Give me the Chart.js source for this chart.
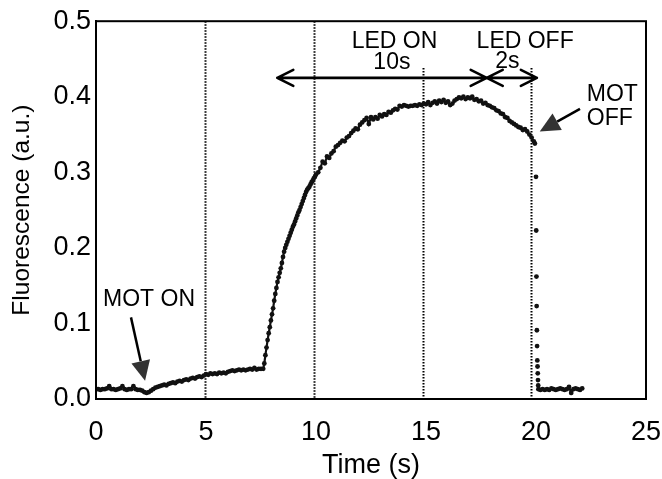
<!DOCTYPE html>
<html>
<head>
<meta charset="utf-8">
<script src="https://cdn.jsdelivr.net/npm/chart.js@4.4.0/dist/chart.umd.min.js"></script>
<style>
html,body{margin:0;padding:0;background:#fff;}
#wrap{width:662px;height:479px;}
</style>
</head>
<body>
<div id="wrap"><canvas id="c" width="662" height="479"></canvas></div>
<script>
// ---- data ----
const baselineTimes = [0,0.1,0.2,0.3,0.4,0.5,0.6,0.7,0.8,0.9,1,1.1,1.2,1.3,1.4,1.5,1.6,1.7,1.8,1.9,2,2.1,2.2,2.3,2.4,2.5,2.6,2.7,2.8,2.9,3,3.1,3.2,3.3,3.4,3.5,3.6,3.7,3.8,3.9,4,4.1,4.2,4.3,4.4,4.5,4.6,4.7,4.8,4.9,5,5.1,5.2,5.3,5.4,5.5,5.6,5.7,5.8,5.9,6,6.1,6.2,6.3,6.4,6.5,6.6,6.7,6.8,6.9,7,7.1,7.2,7.3,7.4,7.5,7.6];
const baselineValues = [.013,.013,.012,.013,.013,.014,.017,.013,.013,.012,
  .013,.014,.017,.013,.012,.013,.013,.017,.013,.012,
  .012,.011,.009,.008,.009,.011,.013,.015,.016,.017,
  .018,.019,.018,.020,.021,.022,.021,.023,.024,.023,
  .025,.026,.025,.027,.028,.027,.029,.030,.029,.031,
  .033,.032,.034,.033,.034,.033,.035,.034,.035,.034,
  .036,.037,.038,.037,.038,.039,.038,.039,.038,.039,
  .040,.039,.041,.039,.040,.040,.040];

const riseTimes = [7.65,7.7,7.75,7.8,7.85,7.9,7.95,8,8.05,8.1,8.15,8.2,8.25,8.3,8.35,8.4,8.45,8.5,8.55,8.6,8.65,8.7,8.75,8.8,8.85,8.9,8.95,9,9.05,9.1,9.15,9.2,9.25,9.3,9.35,9.4,9.45,9.5,9.55,9.6,9.65,9.7,9.75,9.8,9.85,9.9,9.95,10];
const riseValues = [.047,.058,.068,.078,.087,.095,.104,.112,.120,.130,.139,.147,.155,.161,.167,.173,.180,.188,.195,.200,.204,.208,.212,.216,.220,.224,.228,.231,.235,.239,.243,.247,.250,.254,.258,.262,.266,.270,.274,.277,.279,.281,.284,.287,.289,.292,.294,.297];

const plateauTimes = [10.1,10.2,10.3,10.4,10.5,10.6,10.7,10.8,10.9,11,
  11.1,11.2,11.3,11.4,11.5,11.6,11.7,11.8,11.9,12,
  12.1,12.2,12.3,12.4,12.5,12.6,12.7,12.8,12.9,13,
  13.1,13.2,13.3,13.4,13.5,13.6,13.7,13.8,13.9,14,
  14.1,14.2,14.3,14.4,14.5,14.6,14.7,14.8,14.9,15,
  15.1,15.2,15.3,15.4,15.5,15.6,15.7,15.8,15.9,16,
  16.1,16.2,16.3,16.4,16.5,16.6,16.7,16.8,16.9,17,
  17.1,17.2,17.3,17.4,17.5,17.6,17.7,17.8,17.9,18,
  18.1,18.2,18.3,18.4,18.5,18.6,18.7,18.8,18.9,19,
  19.1,19.2,19.3,19.4,19.5,19.6,19.7,19.8,19.9,19.95];
const plateauValues = [.300,.306,.314,.312,.321,.319,.325,.328,.334,.336,
  .339,.342,.341,.346,.348,.352,.355,.358,.357,.363,
  .366,.369,.372,.364,.373,.370,.373,.371,.376,.374,
  .377,.376,.380,.379,.382,.384,.383,.388,.387,.389,
  .388,.387,.388,.388,.389,.388,.390,.389,.391,.390,
  .393,.389,.392,.394,.391,.395,.393,.396,.392,.394,
  .389,.391,.395,.397,.399,.398,.400,.397,.399,.398,
  .400,.396,.397,.394,.395,.391,.392,.389,.388,.386,
  .385,.382,.381,.378,.377,.373,.372,.368,.366,.364,
  .362,.360,.359,.356,.357,.354,.350,.346,.341,.338];

const dropTimes = [20,20.01,20.02,20.03,20.04,20.05,20.06,20.07,20.08,20.09,20.1,20.11];
const dropValues = [.294,.223,.162,.123,.091,.070,.051,.043,.034,.025,.018,.013];

const tailTimes = [20.2,20.3,20.4,20.5,20.6,20.7,20.8,20.9,21,21.1,21.2,21.3,21.4,21.5,21.6,21.7,21.8,21.9,22,22.1];
const tailValues = [.012,.013,.012,.013,.012,.014,.013,.012,.013,.014,.013,.012,.013,.016,.008,.013,.014,.013,.012,.014];

const xTickValues = [0,5,10,15,20,25];
const yTickValues = [0,0.1,0.2,0.3,0.4,0.5];
const markerTimes = [4.96, 9.93, 14.85, 19.76];
const markerTops  = [0.5, 0.5, 0.438, 0.438];

// ---- build points ----
const allTimes = [].concat(baselineTimes, riseTimes, plateauTimes, dropTimes, tailTimes);
const allValues = [].concat(baselineValues, riseValues, plateauValues, dropValues, tailValues);
const points = allTimes.map((t, i) => ({x: t, y: allValues[i]}));
const dropStart = dropTimes[0], dropEnd = dropTimes[dropTimes.length - 1];

const FONT = '"Liberation Sans", Arial, sans-serif';

const annotations = {
  id: 'annotations',
  beforeDatasetsDraw(chart) {
    const {ctx, scales: {x, y}, chartArea: a} = chart;
    ctx.save();
    ctx.strokeStyle = '#000';
    ctx.lineWidth = 2;
    ctx.setLineDash([1.5, 1.5]);
    markerTimes.forEach((t, i) => {
      const px = Math.round(x.getPixelForValue(t)) + 0.5;
      ctx.beginPath();
      ctx.moveTo(px, y.getPixelForValue(markerTops[i]));
      ctx.lineTo(px, a.bottom);
      ctx.stroke();
    });
    ctx.restore();
  },
  afterDraw(chart) {
    const {ctx, scales: {x, y}, chartArea: a} = chart;
    const X = v => x.getPixelForValue(v), Y = v => y.getPixelForValue(v);
    ctx.save();
    // frame
    ctx.strokeStyle = '#000';
    ctx.lineWidth = 2;
    ctx.strokeRect(a.left, a.top, a.right - a.left, a.bottom - a.top);

    // double arrows
    function dbl(x1, x2, yy) {
      const p1 = X(x1), p2 = X(x2), py = Y(yy);
      ctx.lineWidth = 2.6;
      ctx.lineCap = 'round';
      ctx.lineJoin = 'round';
      ctx.beginPath();
      ctx.moveTo(p1, py); ctx.lineTo(p2, py);
      ctx.moveTo(p1 + 16, py - 8); ctx.lineTo(p1, py); ctx.lineTo(p1 + 16, py + 8);
      ctx.moveTo(p2 - 16, py - 8); ctx.lineTo(p2, py); ctx.lineTo(p2 - 16, py + 8);
      ctx.stroke();
    }
    dbl(8.24, 17.76, 0.425);
    dbl(17.76, 20.04, 0.425);

    // filled arrows
    function filled(x0, y0, x1, y1) {
      const a0 = X(x0), b0 = Y(y0), a1 = X(x1), b1 = Y(y1);
      const ang = Math.atan2(b1 - b0, a1 - a0);
      const L = 20, W = 9.5;
      const bx = a1 - L * Math.cos(ang), by = b1 - L * Math.sin(ang);
      ctx.lineWidth = 2.5;
      ctx.lineCap = 'butt';
      ctx.strokeStyle = '#000';
      ctx.beginPath(); ctx.moveTo(a0, b0); ctx.lineTo(bx, by); ctx.stroke();
      ctx.fillStyle = '#333';
      ctx.beginPath();
      ctx.moveTo(a1, b1);
      ctx.lineTo(bx + W * Math.sin(ang), by - W * Math.cos(ang));
      ctx.lineTo(bx - W * Math.sin(ang), by + W * Math.cos(ang));
      ctx.closePath(); ctx.fill();
    }
    filled(1.59, 0.108, 2.23, 0.024);
    filled(22.0, 0.384, 20.17, 0.354);

    // labels
    ctx.fillStyle = '#000';
    ctx.font = '23px ' + FONT;
    ctx.textBaseline = 'middle';
    ctx.textAlign = 'center';
    ctx.fillText('LED ON', X(13.57), Y(0.473));
    ctx.fillText('10s', X(13.45), Y(0.445));
    ctx.fillText('2s', X(18.7), Y(0.446));
    ctx.fillText('MOT ON', X(2.41), Y(0.131));
    ctx.textAlign = 'left';
    ctx.fillText('LED OFF', X(17.3), Y(0.473));
    ctx.fillText('MOT', X(22.31), Y(0.403));
    ctx.fillText('OFF', X(22.31), Y(0.371));
    ctx.restore();
  }
};

new Chart(document.getElementById('c'), {
  type: 'scatter',
  data: {
    datasets: [{
      label: 'Fluorescence',
      data: points,
      showLine: true,
      borderColor: '#111',
      borderWidth: 2.2,
      backgroundColor: '#111',
      pointRadius: 2.4,
      pointBorderWidth: 0,
      pointHoverRadius: 2.4,
      segment: {
        borderColor: c => (c.p1.parsed.x >= dropStart - 1e-6 && c.p1.parsed.x <= dropEnd + 1e-6) ? 'rgba(0,0,0,0)' : undefined
      }
    }]
  },
  plugins: [annotations],
  options: {
    responsive: false,
    animation: false,
    devicePixelRatio: 1,
    layout: {padding: {top: 20, right: 0, left: 0, bottom: 0}},
    plugins: {legend: {display: false}, tooltip: {enabled: false}},
    scales: {
      x: {
        type: 'linear', min: 0, max: 25,
        afterBuildTicks: s => { s.ticks = xTickValues.map(v => ({value: v})); },
        afterFit: s => { s.height = 80; s.paddingRight = 16; },
        grid: {display: false, drawTicks: false},
        border: {display: true, color: '#000', width: 2},
        ticks: {font: {family: FONT, size: 27}, color: '#000', padding: 17, maxRotation: 0, callback: v => String(v)},
        title: {display: true, text: 'Time (s)', font: {family: FONT, size: 27}, color: '#000', padding: {top: 0, bottom: -3}}
      },
      y: {
        type: 'linear', min: 0, max: 0.5,
        afterBuildTicks: s => { s.ticks = yTickValues.map(v => ({value: v})); },
        afterFit: s => { s.width = 96; },
        grid: {display: false, drawTicks: false},
        border: {display: true, color: '#000', width: 2},
        ticks: {font: {family: FONT, size: 27}, color: '#000', padding: 5, callback: v => Number(v).toFixed(1)},
        title: {display: true, text: 'Fluorescence (a.u.)', font: {family: FONT, size: 24.5}, color: '#000', padding: {top: 8, bottom: 0}}
      }
    }
  }
});
</script>
</body>
</html>
